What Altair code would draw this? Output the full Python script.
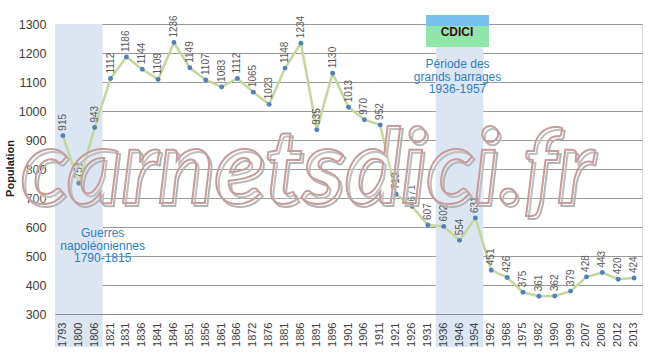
import altair as alt
import pandas as pd

years = ["1793", "1800", "1806", "1821", "1831", "1836", "1841", "1846", "1851", "1856",
         "1861", "1866", "1872", "1876", "1881", "1886", "1891", "1896", "1901", "1906",
         "1911", "1921", "1926", "1931", "1936", "1946", "1954", "1962", "1968", "1975",
         "1982", "1990", "1999", "2007", "2008", "2012", "2013"]
population = [915, 751, 943, 1112, 1186, 1144, 1109, 1236, 1149, 1107,
              1083, 1112, 1065, 1023, 1148, 1234, 935, 1130, 1013, 970,
              952, 713, 671, 607, 602, 554, 631, 451, 426, 375,
              361, 362, 379, 428, 443, 420, 424]

band_start = ["1793", "1936"]
band_end = ["1806", "1954"]
band_top = [0, 23]

note_year = ["1806", "1946"]
note_value = [579, 1162]
note_dx = [8, -2]
note_text = ["Guerres\nnapoléoniennes\n1790-1815", "Période des\ngrands barrages\n1936-1957"]

watermark = ["carnetsdici.fr"]
logo_text = ["CDICI"]

df = pd.DataFrame({"year": years, "pop": population})
bands = pd.DataFrame({"start": band_start, "end": band_end, "top": band_top})

x_scale = alt.Scale(type="band", domain=years, paddingInner=0, paddingOuter=0)
y_scale = alt.Scale(domain=[300, 1300], nice=False, zero=False)

x_axis = alt.Axis(title=None, labelAngle=-90, labelFontSize=11, labelColor="#404040",
                  labelFont="Liberation Sans", ticks=False, tickSize=0, labelPadding=8,
                  domainColor="#8c8c8c", grid=False)
y_axis = alt.Axis(title="Population", values=list(range(300, 1301, 100)), format="d",
                  labelFontSize=12.5,
                  labelColor="#404040", labelFont="Liberation Sans", ticks=False, tickSize=0,
                  labelPadding=9, domainColor="#8c8c8c", gridColor="#9a9a9a", grid=True,
                  titleFont="Liberation Sans", titleFontSize=11, titleFontWeight="bold",
                  titleColor="#222222", titleX=-45, titleY=144, titleAngle=270,
                  titleAlign="center", titleBaseline="middle")

X = alt.X("year:N", scale=x_scale, axis=x_axis, sort=years)
Y = alt.Y("pop:Q", scale=y_scale, axis=y_axis)

band_layer = alt.Chart(bands).mark_rect(color="#dce6f2").encode(
    x=alt.X("start:N", scale=x_scale, axis=x_axis, sort=years, bandPosition=0),
    x2=alt.X2("end", bandPosition=1),
    y=alt.Y("top:Q", scale=None, axis=None),
    y2=alt.value(323),
)

line = alt.Chart(df).mark_line(color="#c3d69b", strokeWidth=2.5).encode(x=X, y=Y)

points = alt.Chart(df).mark_circle(color="#4f81bd", size=24, opacity=1).encode(x=X, y=Y)

labels = alt.Chart(df).mark_text(angle=270, align="left", baseline="middle", dx=5,
                                 fontSize=10, color="#595959", font="Liberation Sans").encode(
    x=X, y=Y, text=alt.Text("pop:Q"))

note_layers = []
for yr, val, ddx, txt in zip(note_year, note_value, note_dx, note_text):
    nd = pd.DataFrame({"year": [yr], "pop": [val], "txt": [txt]})
    note_layers.append(
        alt.Chart(nd).mark_text(lineBreak="\n", fontSize=12, lineHeight=12.5,
                                color="#2f7fbf", font="Liberation Sans", dx=ddx,
                                align="center", baseline="middle").encode(
            x=X, y=Y, text="txt:N"))

logo_df = pd.DataFrame({"t": logo_text})
logo_bg = alt.Chart(logo_df).mark_rect(color="#8fe6a8").encode(
    x=alt.value(371), x2=alt.value(434), y=alt.value(-9), y2=alt.value(23))
logo_wave = alt.Chart(logo_df).mark_rect(color="#79bff0").encode(
    x=alt.value(371), x2=alt.value(434), y=alt.value(-9), y2=alt.value(2))
logo_txt = alt.Chart(logo_df).mark_text(
    fontSize=12, fontWeight="bold", color="#3a0d0d", font="Liberation Sans").encode(
    x=alt.value(402), y=alt.value(8), text="t:N")

wm_df = pd.DataFrame({"t": watermark})
wm_font = "Lato"
wm_shadow = alt.Chart(wm_df).mark_text(
    font=wm_font, fontSize=104, fontWeight="bold", fontStyle="italic",
    fill="white", fillOpacity=0, stroke="#b4b4b4", strokeWidth=2,
    align="center", baseline="alphabetic").encode(
    x=alt.value(254.5), y=alt.value(181.5), text="t:N")
wm_main = alt.Chart(wm_df).mark_text(
    font=wm_font, fontSize=104, fontWeight="bold", fontStyle="italic",
    fill="white", fillOpacity=0.15, stroke="#c79c9c", strokeWidth=2,
    align="center", baseline="alphabetic").encode(
    x=alt.value(252), y=alt.value(179), text="t:N")

chart = alt.layer(
    band_layer, logo_bg, logo_wave, logo_txt, *note_layers, line, points, labels,
    wm_shadow, wm_main
).properties(
    width=587, height=290,
    padding={"left": 55, "top": 24, "right": 8, "bottom": 38},
    autosize=alt.AutoSizeParams(type="none"),
).configure_view(stroke="transparent").configure(background="white")

chart.save("out.html", embed_options={"renderer": "svg", "actions": False})
